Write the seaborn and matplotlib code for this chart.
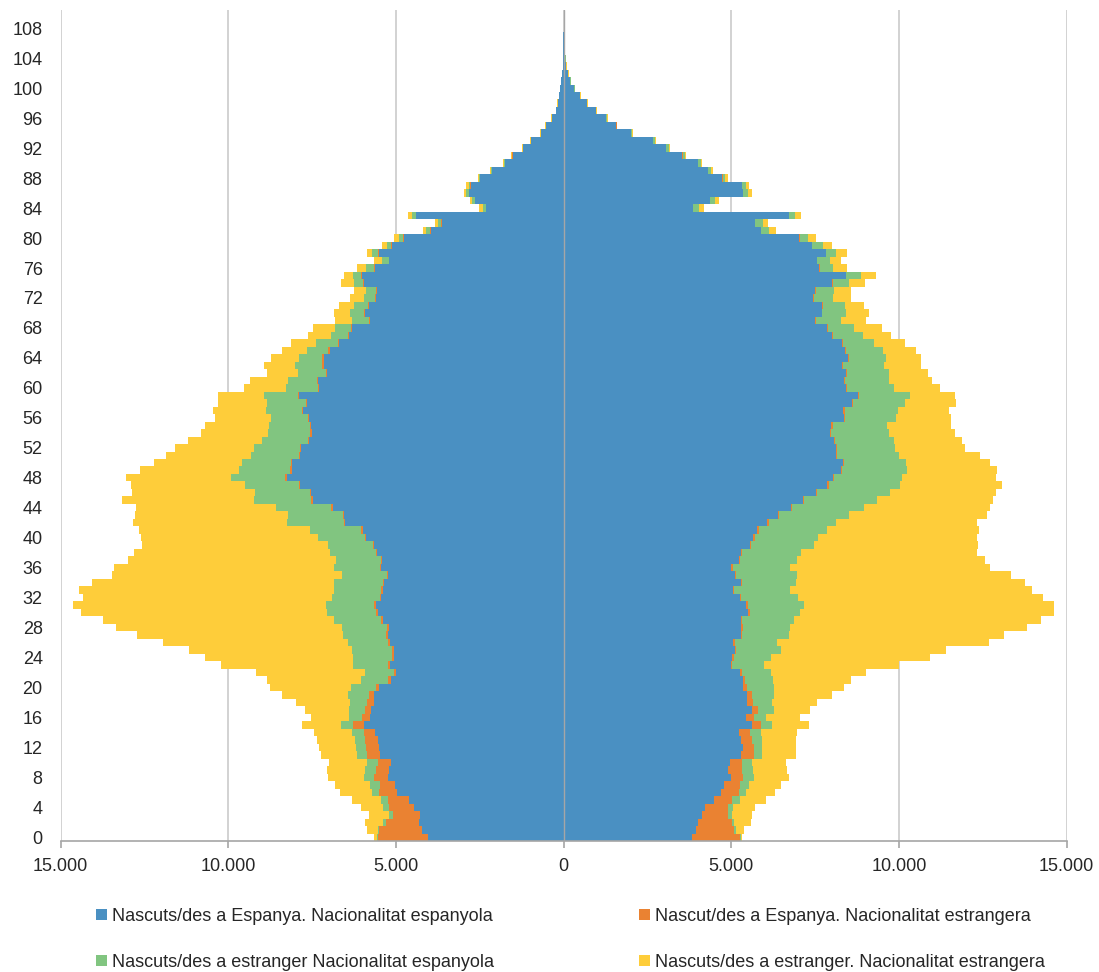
import matplotlib
matplotlib.use("Agg")
import matplotlib.pyplot as plt
import matplotlib.ticker as mticker
from matplotlib.patches import Patch
import numpy as np
import pandas as pd
import seaborn as sns

# ages 0..110 (one band per year of age)
AGES = list(range(111))

# ---- left half ----
LEFT_BLUE = [
    4060, 4230, 4310, 4290, 4470, 4605, 4975, 5025, 5245, 5205,
    5145, 5490, 5520, 5540, 5640, 5970, 5790, 5740, 5670, 5650,
    5520, 5153, 5004, 5173, 5074, 5074, 5193, 5253, 5223, 5392,
    5541, 5601, 5442, 5392, 5352, 5243, 5442, 5422, 5571, 5650,
    5889, 5999, 6516, 6546, 6894, 7491, 7521, 7860, 8258, 8108,
    8108, 7860, 7830, 7581, 7511, 7531, 7581, 7780, 7661, 7879,
    7302, 7332, 7044, 7163, 7163, 6984, 6715, 6417, 6317, 5770,
    5939, 5820, 5591, 5571, 5949, 6019, 5621, 5203, 5521, 5123,
    4775, 3959, 3631, 4397, 2307, 2636, 2815, 2765, 2487, 2138,
    1740, 1522, 1213, 965, 666, 517, 348, 219, 179, 129,
    99, 70, 50, 30, 20, 15, 10, 8, 5, 3,
    0,
]
LEFT_ORANGE = [
    1490, 1265, 995, 815, 735, 640, 545, 450, 400, 390,
    380, 370, 370, 380, 330, 320, 230, 180, 200, 150,
    90, 100, 70, 60, 55, 55, 50, 50, 45, 45,
    45, 50, 45, 45, 45, 40, 45, 40, 40, 40,
    45, 40, 40, 45, 40, 40, 40, 35, 40, 40,
    35, 40, 35, 35, 40, 35, 35, 35, 30, 35,
    30, 30, 30, 30, 30, 30, 30, 25, 30, 25,
    25, 25, 25, 25, 25, 20, 25, 20, 20, 20,
    20, 20, 20, 20, 15, 15, 15, 15, 10, 10,
    10, 5, 5, 5, 5, 5, 5, 0, 0, 0,
    0, 0, 0, 0, 0, 0, 0, 0, 0, 0,
    0,
]
LEFT_GREEN = [
    20, 50, 70, 100, 170, 210, 200, 300, 310, 330,
    340, 290, 300, 290, 330, 360, 380, 480, 500, 620,
    727, 786, 865, 1045, 1144, 1174, 1194, 1293, 1343, 1403,
    1473, 1432, 1423, 1403, 1443, 1323, 1373, 1343, 1373, 1334,
    1403, 1532, 1682, 1632, 1632, 1702, 1652, 1601, 1621, 1532,
    1453, 1422, 1363, 1383, 1254, 1214, 1104, 1054, 1154, 1035,
    955, 866, 845, 806, 686, 646, 647, 487, 468, 507,
    418, 398, 328, 288, 289, 239, 238, 209, 169, 120,
    119, 119, 99, 109, 90, 79, 69, 50, 20, 20,
    30, 20, 10, 10, 20, 10, 10, 10, 5, 5,
    5, 0, 5, 0, 0, 0, 0, 0, 0, 0,
    0,
]
LEFT_YELLOW = [
    80, 310, 545, 600, 665, 845, 945, 1045, 1065, 1145,
    1135, 1085, 1105, 1145, 1135, 1150, 1135, 1315, 1610, 1990,
    2418, 2796, 3234, 3950, 4427, 4875, 5502, 6139, 6736, 6905,
    7333, 7562, 7412, 7601, 7213, 6865, 6547, 6189, 5821, 5542,
    5274, 5105, 4606, 4557, 4179, 3940, 3671, 3413, 3134, 2956,
    2607, 2547, 2358, 2199, 2010, 1930, 1672, 1602, 1462, 1373,
    1254, 1134, 926, 945, 836, 747, 736, 707, 647, 528,
    478, 458, 438, 359, 368, 288, 279, 229, 169, 169,
    150, 100, 80, 120, 99, 70, 60, 69, 49, 30,
    30, 25, 15, 15, 25, 15, 15, 10, 10, 5,
    5, 5, 0, 5, 0, 0, 0, 0, 0, 0,
    0,
]

# ---- right half ----
RIGHT_BLUE = [
    3840, 3940, 4010, 4110, 4200, 4480, 4705, 4775, 4975, 4895,
    4955, 5275, 5355, 5275, 5225, 5605, 5435, 5605, 5475, 5475,
    5354, 5344, 5245, 4976, 5016, 5096, 5056, 5275, 5294, 5275,
    5503, 5444, 5255, 5036, 5275, 5105, 4996, 5225, 5275, 5553,
    5653, 5772, 6070, 6389, 6767, 7135, 7513, 7861, 8031, 8260,
    8329, 8130, 8110, 8060, 7941, 7981, 8359, 8339, 8588, 8787,
    8409, 8359, 8409, 8289, 8488, 8379, 8309, 8010, 7861, 7493,
    7692, 7712, 7434, 7493, 8010, 8409, 7623, 7543, 7812, 7394,
    7016, 5871, 5692, 6707, 3852, 4349, 5334, 5304, 4727, 4289,
    3991, 3533, 3036, 2658, 2011, 1573, 1265, 956, 688, 479,
    319, 200, 120, 70, 50, 30, 20, 20, 15, 10,
    0,
]
RIGHT_ORANGE = [
    1405, 1135, 995, 785, 695, 550, 520, 470, 380, 430,
    370, 400, 320, 350, 330, 270, 240, 200, 180, 150,
    120, 60, 60, 55, 55, 50, 50, 50, 50, 45,
    50, 45, 45, 45, 45, 45, 40, 45, 40, 40,
    45, 40, 45, 40, 40, 40, 40, 40, 35, 40,
    35, 35, 40, 35, 35, 35, 30, 35, 30, 30,
    30, 30, 30, 30, 30, 30, 25, 30, 25, 25,
    25, 25, 25, 20, 25, 20, 20, 20, 20, 20,
    20, 20, 20, 15, 15, 15, 15, 15, 10, 10,
    10, 10, 5, 5, 5, 5, 5, 0, 0, 0,
    0, 0, 0, 0, 0, 0, 0, 0, 0, 0,
    0,
]
RIGHT_GREEN = [
    30, 50, 70, 130, 160, 220, 200, 280, 320, 320,
    300, 250, 250, 280, 320, 350, 350, 465, 565, 645,
    797, 846, 865, 945, 1124, 1323, 1263, 1392, 1403, 1561,
    1493, 1691, 1681, 1661, 1621, 1811, 1721, 1691, 1760, 1880,
    1890, 2039, 2010, 2089, 2139, 2159, 2169, 2120, 2029, 1950,
    1851, 1831, 1721, 1751, 1721, 1612, 1532, 1602, 1572, 1502,
    1422, 1323, 1253, 1224, 1095, 1114, 916, 876, 767, 766,
    687, 637, 566, 557, 468, 447, 377, 388, 298, 318,
    258, 229, 219, 189, 179, 139, 139, 120, 80, 100,
    100, 70, 89, 69, 25, 10, 30, 15, 10, 20,
    10, 10, 15, 10, 10, 0, 0, 0, 0, 0,
    0,
]
RIGHT_YELLOW = [
    30, 250, 500, 600, 640, 775, 865, 945, 1045, 1025,
    995, 995, 995, 1015, 1075, 1105, 1025, 1075, 1325, 1740,
    2089, 2308, 2836, 4030, 4736, 4945, 6299, 6399, 7065, 7364,
    7582, 7443, 7313, 7234, 6816, 6388, 5970, 5592, 5254, 4876,
    4746, 4528, 4209, 4110, 3781, 3473, 3164, 3035, 2786, 2686,
    2487, 2418, 2090, 2040, 1970, 1910, 1632, 1522, 1512, 1343,
    1354, 1273, 1174, 1124, 1054, 975, 925, 856, 825, 717,
    696, 577, 528, 498, 478, 438, 429, 328, 319, 269,
    229, 199, 169, 169, 149, 120, 130, 99, 79, 40,
    29, 30, 30, 30, 25, 15, 24, 10, 14, 14,
    10, 10, 15, 20, 0, 0, 0, 0, 0, 0,
    0,
]

SERIES = [
    "Nascuts/des a Espanya. Nacionalitat espanyola",
    "Nascut/des a Espanya. Nacionalitat estrangera",
    "Nascuts/des a estranger Nacionalitat espanyola",
    "Nascuts/des a estranger. Nacionalitat estrangera",
]
COLORS = ["#4A90C2", "#EA8232", "#81C580", "#FECD3A"]

XTICKS = [-15000, -10000, -5000, 0, 5000, 10000, 15000]
YTICKS = list(range(0, 109, 4))

TEXT = "#262626"
GRID = "#cfcfcf"
AXIS = "#a6a6a6"

sns.set_style("white")
plt.rcParams["font.family"] = ["Liberation Sans", "DejaVu Sans"]

W, H = 1099, 972
fig = plt.figure(figsize=(W / 100, H / 100), dpi=100)
ax = fig.add_axes([60.7 / W, 1 - 841 / H, (1066.7 - 60.7) / W, (841 - 9.6) / H])

# stacked bars: draw cumulative totals back to front
left = np.array([LEFT_BLUE, LEFT_ORANGE, LEFT_GREEN, LEFT_YELLOW], dtype=float)
right = np.array([RIGHT_BLUE, RIGHT_ORANGE, RIGHT_GREEN, RIGHT_YELLOW], dtype=float)
left_cum = np.cumsum(left, axis=0)
right_cum = np.cumsum(right, axis=0)

for i in range(3, -1, -1):
    for sign, cum in ((-1, left_cum), (1, right_cum)):
        df = pd.DataFrame({"age": AGES, "value": sign * cum[i]})
        sns.barplot(
            data=df, x="value", y="age", orient="h", native_scale=True,
            color=COLORS[i], saturation=1, width=1.0, linewidth=0,
            errorbar=None, ax=ax,
        )

ax.set_xlim(-15000, 15000)
ax.set_ylim(-0.5, 110.5)
ax.set_xlabel("")
ax.set_ylabel("")

# grid and axes
ax.set_axisbelow(True)
ax.set_xticks(XTICKS)
ax.xaxis.grid(True, color=GRID, linewidth=1.3)
ax.yaxis.grid(False)
ax.axvline(0, color=AXIS, linewidth=1.0, zorder=5)
for side in ("top", "right", "left"):
    ax.spines[side].set_visible(False)
ax.spines["bottom"].set_color(AXIS)
ax.spines["bottom"].set_linewidth(1.2)

ax.xaxis.set_major_formatter(
    mticker.FuncFormatter(lambda v, p: f"{abs(int(round(v))):,}".replace(",", "."))
)
ax.tick_params(axis="x", bottom=True, length=5, width=1.2, color=AXIS,
               labelsize=13, labelcolor=TEXT, pad=7)
ax.set_yticks(YTICKS)
ax.set_yticklabels([str(a) for a in YTICKS])
ax.tick_params(axis="y", left=False, length=0, labelsize=13,
               labelcolor=TEXT, pad=13)

# legend: two columns placed separately (fig.legend keeps both)
handles = [Patch(facecolor=c, edgecolor="none") for c in COLORS]
leg_kw = dict(frameon=False, fontsize=13, handlelength=0.6, handleheight=0.6,
              handletextpad=0.3, labelspacing=1.6, borderpad=0,
              borderaxespad=0, loc="upper left", labelcolor=TEXT)
fig.legend([handles[0], handles[2]], [SERIES[0], SERIES[2]],
           bbox_to_anchor=(96 / W, 1 - 908 / H), **leg_kw)
fig.legend([handles[1], handles[3]], [SERIES[1], SERIES[3]],
           bbox_to_anchor=(639 / W, 1 - 908 / H), **leg_kw)

fig.savefig("out.png", dpi=100, facecolor="white")
